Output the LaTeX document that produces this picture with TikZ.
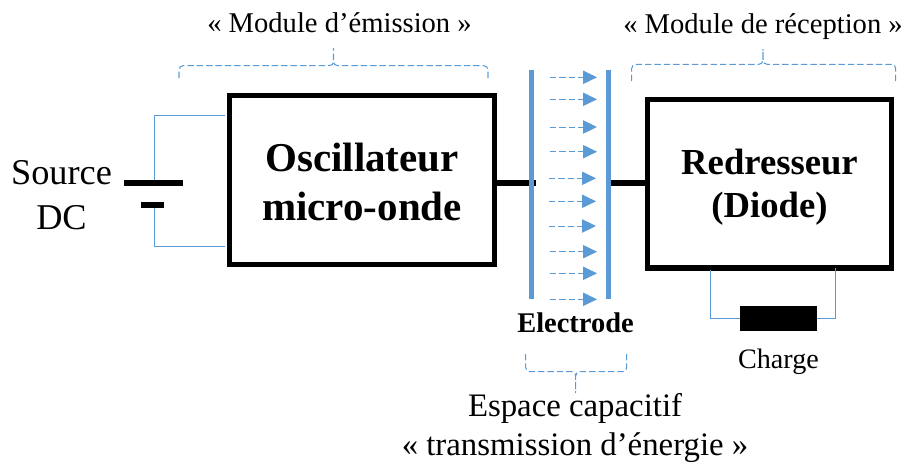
\documentclass[tikz,border=0pt]{standalone}
\usepackage{fontspec}
\setmainfont{Liberation Serif}
\usetikzlibrary{arrows.meta, positioning}

\definecolor{bleu}{HTML}{5B9BD5}
\tikzset{
	boite/.style={draw, line width=4.3pt, inner sep=0pt, outer sep=0pt},
	plaque/.style={fill=black, inner sep=0pt, outer sep=0pt},
	electrode/.style={fill=bleu, inner sep=0pt, outer sep=0pt, minimum width=0.15cm, minimum height=6.87cm},
	fil/.style={draw=bleu, line width=0.8pt},
	liaison/.style={line width=5pt},
	champ/.style={draw=bleu, line width=0.8pt, dash pattern=on 5.5pt off 2.5pt, -{Triangle[length=0.42cm, width=0.4cm, fill=bleu]}},
	accolade/.style={draw=bleu, line width=0.9pt, dash pattern=on 5.5pt off 2.5pt, rounded corners=3.5pt},
	texte/.style={inner sep=0pt, align=center}
}

\begin{document}
\begin{tikzpicture}[x=0.03cm, y=-0.03cm]
	\useasboundingbox (0,0) rectangle (905,464);

	\node[boite, minimum width=7.935cm, minimum height=5.07cm] (oscillateur) at (362,180) {};
	\node[boite, minimum width=7.32cm, minimum height=5.055cm] (redresseur) at (769.5,183.75) {};
	\node[texte, font=\bfseries\fontsize{35pt}{42pt}\selectfont] (oscillateurTexte) at (362,182) {Oscillateur\\micro-onde};
	\node[texte, font=\bfseries\fontsize{31.3pt}{37pt}\selectfont] (redresseurTexte) at (769.5,187) {Redresseur\\(Diode)};

	% source
	\node[texte, font=\fontsize{31pt}{39pt}\selectfont] (source) at (61.5,195) {Source\\DC};
	\node[plaque, minimum width=1.77cm, minimum height=0.18cm] (plaqueA) at (153.5,183) {};
	\node[plaque, minimum width=0.69cm, minimum height=0.18cm] (plaqueB) at (152.5,205) {};
	\coordinate (entreeA) at (225,115);
	\coordinate (entreeB) at (225,246);
	\draw[fil] (plaqueA.north -| entreeA) ++(-70.5,0) coordinate (hautA) |- (entreeA);
	\draw[fil] (plaqueB.south -| hautA) |- (entreeB);

	% liaisons
	\coordinate (sortieA) at (535.5,183);
	\coordinate (sortieB) at (609,183);
	\draw[liaison] (sortieA -| oscillateur.east) -- (sortieA);
	\draw[liaison] (sortieB) -- (sortieB -| redresseur.west);

	% electrodes
	\node[electrode] (electrodeA) at (531.5,184.5) {};
	\node[electrode] (electrodeB) at (608.5,184.5) {};
	\foreach \y/\x in {77.3/550, 99.3/550, 127/550, 151.7/550, 178.3/549, 201.3/549, 226/549, 251.7/550, 273.3/550, 299.3/550}
	{
		\coordinate (debut) at (\x,\y);
		\coordinate (fin) at (\x+47,\y);
		\draw[champ] (debut) -- (fin);
	}
	\node[texte, font=\bfseries\fontsize{24.3pt}{29pt}\selectfont] (electrode) at (575.5,323) {Electrode};

	% charge
	\node[plaque, minimum width=2.31cm, minimum height=0.76cm] (charge) at (778.3,318.4) {};
	\coordinate (sortieC) at (710.3,270);
	\coordinate (sortieD) at (835.7,268);
	\draw[fil] (charge.west) -| (sortieC);
	\draw[fil] (charge.east) -| (sortieD);
	\node[texte, font=\fontsize{24pt}{29pt}\selectfont] (chargeTexte) at (778.5,362) {Charge};

	% accolades
	\draw[accolade] (179,78) |- (333.5,65.7) -- (333.5,48) (488,78) |- (333.5,65.7) -- (333.5,48);
	\draw[accolade] (631.7,81) |- (763,64.3) -- (763,49) (895.7,81) |- (763,64.3) -- (763,49);
	\draw[accolade] (525.7,354) |- (575.7,371.7) -- (575.7,393) (626.7,354) |- (575.7,371.7) -- (575.7,393);

	\node[texte, font=\fontsize{24.4pt}{29pt}\selectfont] (emission) at (339.5,22.5) {« Module d’émission »};
	\node[texte, font=\fontsize{24.4pt}{29pt}\selectfont] (reception) at (763,27) {« Module de réception »};
	\node[texte, font=\fontsize{28pt}{33.3pt}\selectfont] (espace) at (575,428) {Espace capacitif\\« transmission d’énergie »};
\end{tikzpicture}
\end{document}
